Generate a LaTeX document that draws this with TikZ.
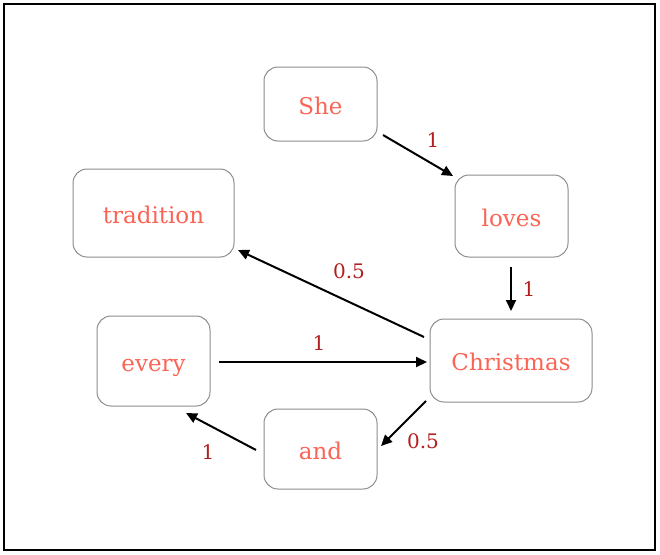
\documentclass[tikz,border=0pt]{standalone}
\usepackage{fontspec}
\setmainfont{DejaVu Serif}
\usetikzlibrary{arrows.meta}
\definecolor{wordcol}{RGB}{250,100,85}
\definecolor{labcol}{RGB}{180,30,30}
\definecolor{boxcol}{RGB}{140,140,140}
\tikzset{
  word/.style={draw=boxcol, line width=1pt, rounded corners=14pt, text=wordcol,
    font=\fontsize{23}{27}\selectfont, inner sep=0pt, anchor=center,
    text height=20pt, text depth=0pt},
  arr/.style={black, line width=2pt, -{Triangle[length=11pt,width=10pt]}},
  lab/.style={text=labcol, font=\fontsize{20}{24}\selectfont, inner sep=0pt},
}
\begin{document}
\begin{tikzpicture}[x=1pt,y=-1pt]
\useasboundingbox (0,0) rectangle (660,554);
\draw[line width=2pt] (4,4) rectangle (655,550);
\node[word, minimum width=113pt, minimum height=74pt] (she) at (320.5,104) {She};
\node[word, minimum width=113pt, minimum height=82pt] (loves) at (511.5,216) {loves};
\node[word, minimum width=161pt, minimum height=88pt] (tradition) at (153.5,213) {tradition};
\node[word, minimum width=162pt, minimum height=83pt] (christmas) at (511,360.5) {Christmas};
\node[word, minimum width=113pt, minimum height=90pt] (every) at (153.5,361) {every};
\node[word, minimum width=113pt, minimum height=80pt] (and) at (320.5,449) {and};

\draw[arr] ([shift={(62.5,31)}]she.center) -- ([shift={(-58.5,-40)}]loves.center);
\draw[arr] ([shift={(-0.5,51)}]loves.center) -- ([shift={(0,-49.5)}]christmas.center);
\draw[arr] ([shift={(-87,-23.5)}]christmas.center) -- ([shift={(84.5,37)}]tradition.center);
\draw[arr] ([shift={(65.5,1)}]every.center) -- ([shift={(-84,1.5)}]christmas.center);
\draw[arr] ([shift={(-85,40.5)}]christmas.center) -- ([shift={(60.5,-3)}]and.center);
\draw[arr] ([shift={(-64.5,1)}]and.center) -- ([shift={(32.5,52)}]every.center);

\node[lab] (l1) at (433,140) {1};
\node[lab] (l2) at (529,289) {1};
\node[lab] (l3) at (349,271) {0.5};
\node[lab] (l4) at (319,343) {1};
\node[lab] (l5) at (423,441) {0.5};
\node[lab] (l6) at (208,452) {1};
\end{tikzpicture}
\end{document}
